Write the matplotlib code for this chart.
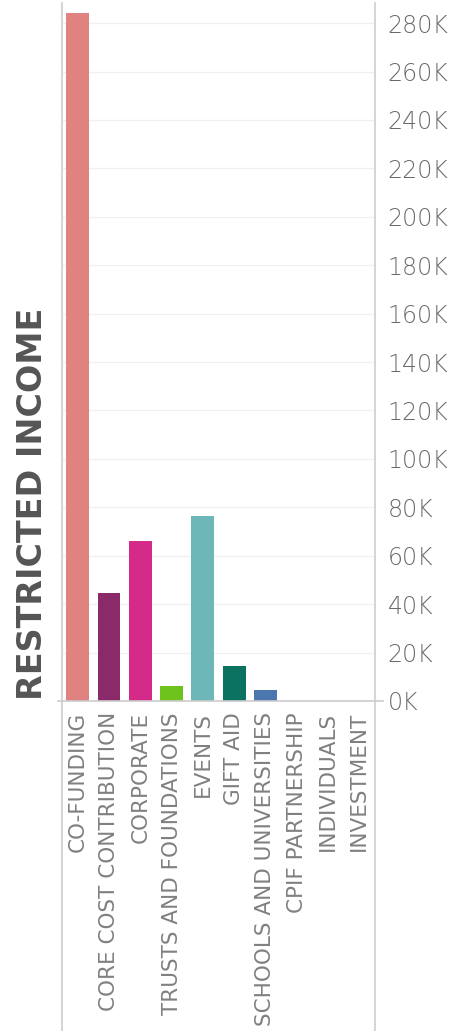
import matplotlib
matplotlib.use("Agg")
import matplotlib.pyplot as plt
from matplotlib.lines import Line2D
from matplotlib.ticker import FuncFormatter, MultipleLocator

categories = ["CO-FUNDING", "CORE COST CONTRIBUTION", "CORPORATE", "TRUSTS AND FOUNDATIONS",
              "EVENTS", "GIFT AID", "SCHOOLS AND UNIVERSITIES", "CPIF PARTNERSHIP",
              "INDIVIDUALS", "INVESTMENT"]
values = [284300, 44500, 66200, 6200, 76500, 14500, 4500, 0, 0, 0]
colors = ["#E0827F", "#8B2A68", "#D42B8B", "#6DC21C", "#6DB7B8", "#0B7160", "#4B77AE",
          "#999999", "#999999", "#999999"]
y_label = "RESTRICTED INCOME"

W, H = 468, 1031
fig = plt.figure(figsize=(W / 100, H / 100), dpi=100)

left_px, right_px, bottom_px, top_px = 62, 375, 701, 3
ax = fig.add_axes([left_px / W, 1 - bottom_px / H, (right_px - left_px) / W, (bottom_px - top_px) / H])

x = list(range(len(categories)))
ax.bar(x, values, width=0.73, color=colors, zorder=3)
ax.set_xlim(-0.5, len(categories) - 0.5)
ax.set_ylim(0, (bottom_px - top_px) / 2.421 * 1000)

ax.yaxis.set_major_locator(MultipleLocator(20000))
ax.yaxis.set_major_formatter(FuncFormatter(lambda v, p: f"{v/1000:.0f}K"))
ax.yaxis.tick_right()
ax.tick_params(axis="y", length=0, pad=9, labelsize=17, labelcolor="#6a6a6a")
for t in ax.get_yticklabels():
    t.set_fontweight("light")
ax.set_xticks(x)
ax.set_xticklabels(categories, rotation=90, va="top", ha="center")
ax.tick_params(axis="x", length=0, pad=8, labelsize=15.5, labelcolor="#808080")
ax.grid(axis="y", color="#f0f0f0", linewidth=1, zorder=0)
for s in ax.spines.values():
    s.set_visible(False)

# frame lines
fig.add_artist(Line2D([left_px / W, left_px / W], [0, 1 - top_px / H], color="#d6d6d6", lw=1.5))
fig.add_artist(Line2D([right_px / W, right_px / W], [0, 1 - top_px / H], color="#d6d6d6", lw=1.5))
fig.add_artist(Line2D([58 / W, 383 / W], [1 - bottom_px / H, 1 - bottom_px / H], color="#cccccc", lw=1.2))

fig.text(33 / W, 1 - 504 / H, y_label, rotation=90, ha="center", va="center",
         fontsize=24, fontweight="bold", color="#555555")

fig.savefig("out.png", dpi=100)
